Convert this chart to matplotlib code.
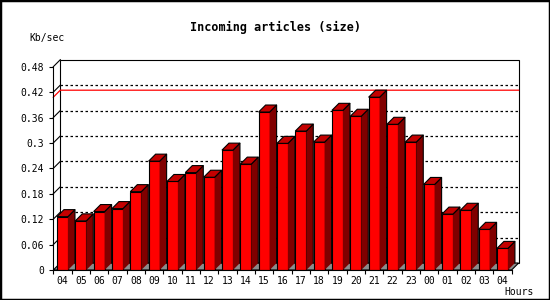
import numpy as np
import matplotlib
matplotlib.use("Agg")
import matplotlib.pyplot as plt
from matplotlib.patches import Polygon, Rectangle

hours = ["04", "05", "06", "07", "08", "09", "10", "11", "12", "13", "14", "15",
         "16", "17", "18", "19", "20", "21", "22", "23", "00", "01", "02", "03", "04"]
kbps = [0.126, 0.116, 0.138, 0.145, 0.185, 0.257, 0.209, 0.230, 0.219, 0.283,
        0.250, 0.373, 0.299, 0.328, 0.302, 0.377, 0.363, 0.408, 0.344, 0.302,
        0.202, 0.132, 0.141, 0.096, 0.051]
y_ticks = [0, 0.06, 0.12, 0.18, 0.24, 0.30, 0.36, 0.42, 0.48]
y_labels = ["0", "0.06", "0.12", "0.18", "0.24", "0.3", "0.36", "0.42", "0.48"]

MONO = "DejaVu Sans Mono"
W, H = 550, 300
DEPTH = 7  # pixels of fake 3d depth

fig = plt.figure(figsize=(W / 100, H / 100), dpi=100)
ax_l, ax_b, ax_w, ax_h = 53.3, 30, 458.3, 203.3
ax = fig.add_axes([ax_l / W, ax_b / H, ax_w / W, ax_h / H])
n = len(kbps)
ymax = y_ticks[-1]
ax.set_xlim(0, n)
ax.set_ylim(0, ymax)
ax.patch.set_visible(False)

# depth offset in data units
dx = n * DEPTH / ax_w
dy = ymax * DEPTH / ax_h
lw = 0.8

# back wall
ax.add_patch(Rectangle((dx, dy), n, ymax, facecolor="white", edgecolor="black",
                       lw=lw, clip_on=False, zorder=0.5))
# floor
ax.add_patch(Polygon([(0, 0), (n, 0), (n + dx, dy), (dx, dy)], closed=True,
                     facecolor="#8c8c8c", edgecolor="black", lw=lw,
                     clip_on=False, zorder=1))
ax.plot([0, dx], [ymax, ymax + dy], color="black", lw=lw, clip_on=False, zorder=1)

# grid on back and left wall
for t in y_ticks[1:-1]:
    ax.plot([dx, n + dx], [t + dy, t + dy], color="black", lw=0.9,
            ls=(0, (2, 2)), clip_on=False, zorder=1)
    ax.plot([0, dx], [t, t + dy], color="black", lw=lw, clip_on=False, zorder=1)

# max line
top = max(kbps)
ax.plot([0, dx, n + dx], [top, top + dy, top + dy], color="red", lw=0.9,
        clip_on=False, zorder=1.5)

# bars: front, side and top faces
xs = np.arange(n) + 0.5
bw = 0.6
ax.bar(xs, kbps, width=bw, color="#ff0000", edgecolor="black", lw=lw, zorder=3)
for x, v in zip(xs, kbps):
    x0, x1 = x - bw / 2, x + bw / 2
    side = [(x1, 0), (x1 + dx, dy), (x1 + dx, v + dy), (x1, v)]
    lid = [(x0, v), (x1, v), (x1 + dx, v + dy), (x0 + dx, v + dy)]
    ax.add_patch(Polygon(side, closed=True, facecolor="#800000",
                         edgecolor="none", zorder=3, clip_on=False))
    # outline the side without its bottom edge
    ax.plot([x1 + dx, x1 + dx, x1], [dy, v + dy, v], color="black", lw=lw,
            zorder=3.1, clip_on=False)
    ax.add_patch(Polygon(lid, closed=True, facecolor="#c40000",
                         edgecolor="black", lw=lw, zorder=3.2, clip_on=False))

for s in ["top", "right"]:
    ax.spines[s].set_visible(False)
for s in ["left", "bottom"]:
    ax.spines[s].set_linewidth(lw)
    ax.spines[s].set_zorder(4)

ax.set_yticks(y_ticks)
ax.set_yticklabels(y_labels, fontfamily=MONO, fontsize=7)
ax.tick_params(axis="y", direction="out", length=3, width=lw, pad=3.5)
ax.set_xticks(xs)
ax.set_xticklabels(hours, fontfamily=MONO, fontsize=7)
ax.set_xticks(np.arange(n + 1), minor=True)
ax.tick_params(axis="x", which="major", length=0, pad=4)
ax.tick_params(axis="x", which="minor", direction="out", length=3, width=lw)

fig.text(0.5, 1 - 27.5 / H, "Incoming articles (size)", ha="center", va="center",
         fontfamily=MONO, fontweight="bold", fontsize=8.5)
fig.text(47.5 / W, 1 - 38 / H, "Kb/sec", ha="center", va="center",
         fontfamily=MONO, fontsize=7)
fig.text(534 / W, 1 - 292 / H, "Hours", ha="right", va="center",
         fontfamily=MONO, fontsize=7)

# image border
fig.patches.append(Rectangle((0, 0), 1, 1, transform=fig.transFigure, fill=False,
                             edgecolor="black", lw=2.5))

fig.savefig("out.png", dpi=100)
